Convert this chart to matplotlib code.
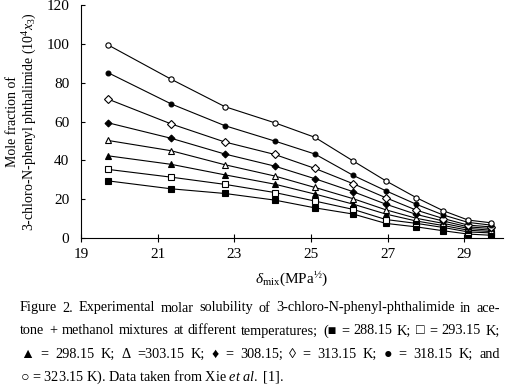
import matplotlib
matplotlib.use("Agg")
import matplotlib.pyplot as plt

plt.rcParams['font.family'] = ['Liberation Serif', 'DejaVu Serif', 'DejaVu Sans']
plt.rcParams['mathtext.fontset'] = 'custom'
plt.rcParams['mathtext.rm'] = 'Liberation Serif'
plt.rcParams['mathtext.it'] = 'Liberation Serif:italic'
plt.rcParams['mathtext.bf'] = 'Liberation Serif:bold'

# solubility parameter of the solvent mixture, MPa^1/2
delta_mix = [19.7, 21.35, 22.75, 24.05, 25.1, 26.1, 26.95, 27.75, 28.45, 29.1, 29.7]

# mole fraction 10^4 x3 at each temperature
x_288 = [29.5, 25.4, 23.0, 19.6, 15.6, 12.4, 7.6, 5.8, 3.8, 2.1, 1.5]
x_293 = [35.4, 31.4, 27.7, 23.5, 19.1, 14.8, 9.6, 7.6, 5.5, 3.2, 2.7]
x_298 = [42.4, 38.0, 32.6, 27.8, 22.7, 17.5, 12.4, 8.8, 6.5, 4.1, 3.4]
x_303 = [50.3, 45.0, 37.8, 32.0, 26.1, 20.3, 14.6, 10.2, 7.6, 5.0, 4.1]
x_308 = [59.4, 51.4, 43.3, 37.1, 30.6, 23.9, 17.5, 12.2, 8.8, 5.8, 5.0]
x_313 = [71.6, 58.8, 49.5, 43.1, 35.9, 28.0, 20.8, 14.4, 10.1, 6.7, 5.8]
x_318 = [85.2, 69.1, 57.9, 50.0, 43.3, 32.3, 24.4, 17.4, 11.9, 8.1, 6.7]
x_323 = [99.5, 81.8, 67.7, 59.4, 51.9, 39.7, 29.5, 20.8, 14.1, 9.3, 7.9]

series = [
    (x_288, 's', 'black', 4.2),
    (x_293, 's', 'white', 4.2),
    (x_298, '^', 'black', 4.0),
    (x_303, '^', 'white', 4.5),
    (x_308, 'D', 'black', 3.5),
    (x_313, 'D', 'white', 4.2),
    (x_318, 'o', 'black', 3.5),
    (x_323, 'o', 'white', 3.8),
]

caption = [
    "Figure 2. Experimental molar solubility of 3-chloro-N-phenyl-phthalimide in ace-",
    "tone + methanol mixtures at different temperatures; (\u25a0 = 288.15 K; \u25a1 = 293.15 K;",
    "\u25b2 = 298.15 K; \u0394 =303.15 K; \u2666 = 308.15; \u25ca = 313.15 K; \u25cf = 318.15 K; and",
    "\u25cb = 323.15 K). Data taken from Xie $\\it{et\\ al.}$ [1].",
]

W, H = 513, 386
fig = plt.figure(figsize=(W / 100, H / 100), dpi=100)
ax = fig.add_axes([0.158, 0.383, 0.822, 0.604])

for ys, mk, fc, ms in series:
    ax.plot(delta_mix, ys, color='black', linewidth=0.8, marker=mk,
            markersize=ms, markerfacecolor=fc, markeredgecolor='black',
            markeredgewidth=0.8)

ax.set_xlim(19, 30)
ax.set_ylim(0, 120)
ax.set_xticks([19, 21, 23, 25, 27, 29])
ax.set_yticks([0, 20, 40, 60, 80, 100, 120])
ax.spines['top'].set_visible(False)
ax.spines['right'].set_visible(False)
ax.tick_params(axis='x', direction='inout', length=6, width=0.8, labelsize=11, pad=4)
ax.tick_params(axis='y', direction='in', length=3, width=0.8, labelsize=11, pad=8.5)

ax.set_xlabel('$\\delta_{\\mathrm{mix}}$(MPa$^{\u00bd}$)', fontsize=11, labelpad=6)
ax.set_ylabel('Mole fraction of\n3-chloro-N-phenyl phthalimide (10$^4$$x_3$)',
              fontsize=10, linespacing=1.15)
ax.yaxis.set_label_coords(-0.1, 0.5)

# caption, justified like the printed page (last line left aligned)
renderer = fig.canvas.get_renderer()
left, right = 20, 500
for i, line in enumerate(caption):
    y = 1 - (308 + 23 * i) / H
    if i == len(caption) - 1:
        fig.text(left / W, y, line, fontsize=10.3, ha='left', va='center')
        continue
    words = line.split(' ')
    texts = [fig.text(0, y, w, fontsize=10.3, ha='left', va='center') for w in words]
    widths = [t.get_window_extent(renderer).width for t in texts]
    gap = (right - left - sum(widths)) / (len(words) - 1)
    x = left
    for t, w in zip(texts, widths):
        t.set_x(x / W)
        x += w + gap

fig.savefig('out.png', dpi=100)
